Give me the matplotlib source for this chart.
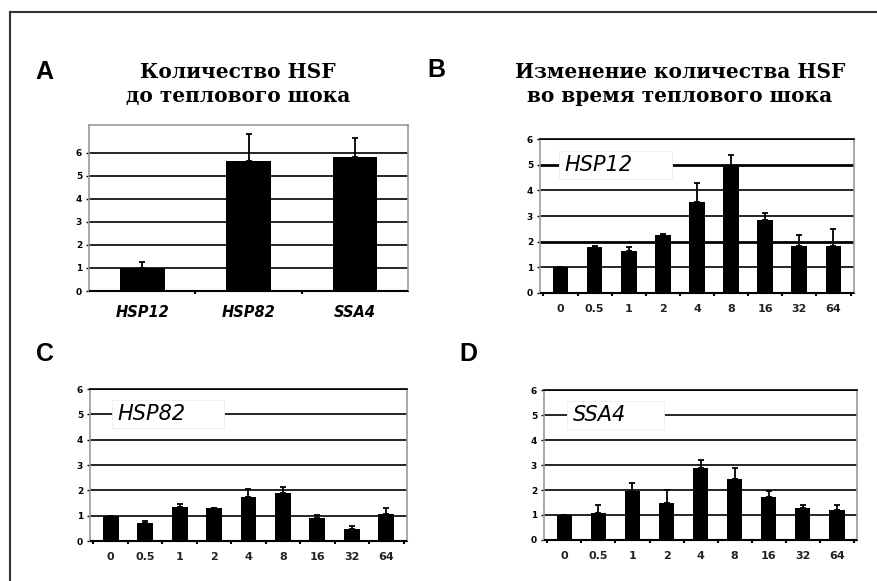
import matplotlib
matplotlib.use("Agg")
import matplotlib.pyplot as plt
from matplotlib.lines import Line2D
from matplotlib.patches import Rectangle
import numpy as np

# ---- data ----
genes = ["HSP12", "HSP82", "SSA4"]
basal_values = [1.0, 5.65, 5.8]
basal_err = [0.25, 1.15, 0.82]

time_labels = ["0", "0.5", "1", "2", "4", "8", "16", "32", "64"]
hsp12_values = [1.0, 1.78, 1.65, 2.25, 3.55, 4.95, 2.85, 1.85, 1.85]
hsp12_err = [0.0, 0.07, 0.13, 0.05, 0.73, 0.42, 0.25, 0.4, 0.65]
hsp82_values = [1.0, 0.7, 1.33, 1.3, 1.72, 1.9, 0.92, 0.48, 1.08]
hsp82_err = [0.0, 0.1, 0.15, 0.0, 0.33, 0.25, 0.1, 0.1, 0.24]
ssa4_values = [1.0, 1.08, 1.95, 1.5, 2.88, 2.45, 1.72, 1.28, 1.22]
ssa4_err = [0.0, 0.32, 0.35, 0.5, 0.32, 0.45, 0.26, 0.14, 0.2]

title_a = "Количество HSF\nдо теплового шока"
title_b = "Изменение количества HSF\nво время теплового шока"

fig = plt.figure(figsize=(8.77, 5.81), dpi=100)
fig.patch.set_facecolor("white")

# partial frame (left and top lines)
fig.add_artist(Line2D([10/877, 10/877], [0, 1 - 12/581], transform=fig.transFigure,
                      color="#333333", lw=1.5))
fig.add_artist(Line2D([10/877, 1], [1 - 12/581, 1 - 12/581], transform=fig.transFigure,
                      color="#333333", lw=1.5))


def style_axes(ax, ymax, thick=()):
    ax.set_ylim(0, ymax)
    for y in range(1, 7):
        if y <= ymax:
            ax.axhline(y, color="black", lw=2.0 if y in thick else 1.2, zorder=1)
    ax.axhline(0, color="black", lw=1.5, zorder=3)
    for s in ["left", "right", "top"]:
        ax.spines[s].set_color("#9a9a9a")
        ax.spines[s].set_linewidth(1.2)
    ax.spines["bottom"].set_color("black")
    ax.set_yticks(range(0, 7))
    ax.tick_params(axis="y", length=2, width=1, pad=3, labelsize=6.5)
    for lab in ax.get_yticklabels():
        lab.set_fontweight("bold")


def time_panel(rect, values, errs, label, box, thick=()):
    ax = fig.add_axes(rect)
    x = np.arange(len(values))
    ax.bar(x, values, width=0.46, color="black", zorder=2)
    ax.errorbar(x, values, yerr=[np.zeros(len(errs)), errs], fmt="none",
                ecolor="black", elinewidth=1.3, capsize=2.5, capthick=1.3, zorder=3)
    ax.set_xlim(-0.6, len(values) - 0.4)
    style_axes(ax, 6, thick)
    ax.spines["top"].set_color("black")
    ax.set_xticks(x)
    ax.set_xticklabels(time_labels, fontsize=8, fontweight="bold", color="#222222")
    ax.set_xticks(np.arange(-0.5, len(values)), minor=True)
    ax.tick_params(axis="x", which="major", length=0, pad=8)
    ax.tick_params(axis="x", which="minor", length=2, width=1.5, direction="out")
    x0, x1 = box
    ax.add_patch(Rectangle((x0, 4.45), x1 - x0, 1.1, facecolor="white",
                           edgecolor="#eeeeee", lw=0.6, zorder=4))
    ax.text(x0 + 0.15, 5.0, label, fontsize=15, fontstyle="italic", ha="left",
            va="center", zorder=5)
    return ax


# ---- panel A ----
axA = fig.add_axes([0.1015, 0.4991, 0.364, 0.2857])
xa = np.arange(len(genes))
axA.bar(xa, basal_values, width=0.42, color="black", zorder=2)
axA.errorbar(xa, basal_values, yerr=[np.zeros(3), basal_err], fmt="none",
             ecolor="black", elinewidth=1.3, capsize=2.5, capthick=1.3, zorder=3)
axA.set_xlim(-0.5, 2.5)
style_axes(axA, 7.2)
axA.set_xticks(xa)
axA.set_xticklabels(genes, fontsize=10.5, fontweight="bold", fontstyle="italic")
axA.set_xticks([0.5, 1.5], minor=True)
axA.tick_params(axis="x", which="major", length=0, pad=10)
axA.tick_params(axis="x", which="minor", length=2, width=1.5)

# ---- panels B, C, D ----
axB = time_panel([0.6157, 0.4957, 0.358, 0.265], hsp12_values, hsp12_err, "HSP12",
                 (-0.03, 3.27), thick=(2, 5))
axC = time_panel([0.1026, 0.0688, 0.3615, 0.2616], hsp82_values, hsp82_err, "HSP82",
                 (0.05, 3.29))
axD = time_panel([0.6203, 0.0706, 0.357, 0.258], ssa4_values, ssa4_err, "SSA4",
                 (0.09, 2.93))

# ---- titles & panel letters ----
title_font = dict(family=["DejaVu Serif"], fontweight="bold",
                  fontsize=14.5, ha="center", va="center", linespacing=1.3)
fig.text(238/877, 1 - 84/581, title_a, **title_font)
fig.text(680/877, 1 - 84/581, title_b, **title_font)

letter_font = dict(fontsize=18, fontweight="bold", ha="left", va="center",
                   family=["Liberation Sans", "DejaVu Sans"])
fig.text(35/877, 1 - 72/581, "A", **letter_font)
fig.text(427/877, 1 - 70/581, "B", **letter_font)
fig.text(36/877, 1 - 354/581, "C", **letter_font)
fig.text(459/877, 1 - 354/581, "D", **letter_font)

fig.savefig("out.png", dpi=100, facecolor="white")
